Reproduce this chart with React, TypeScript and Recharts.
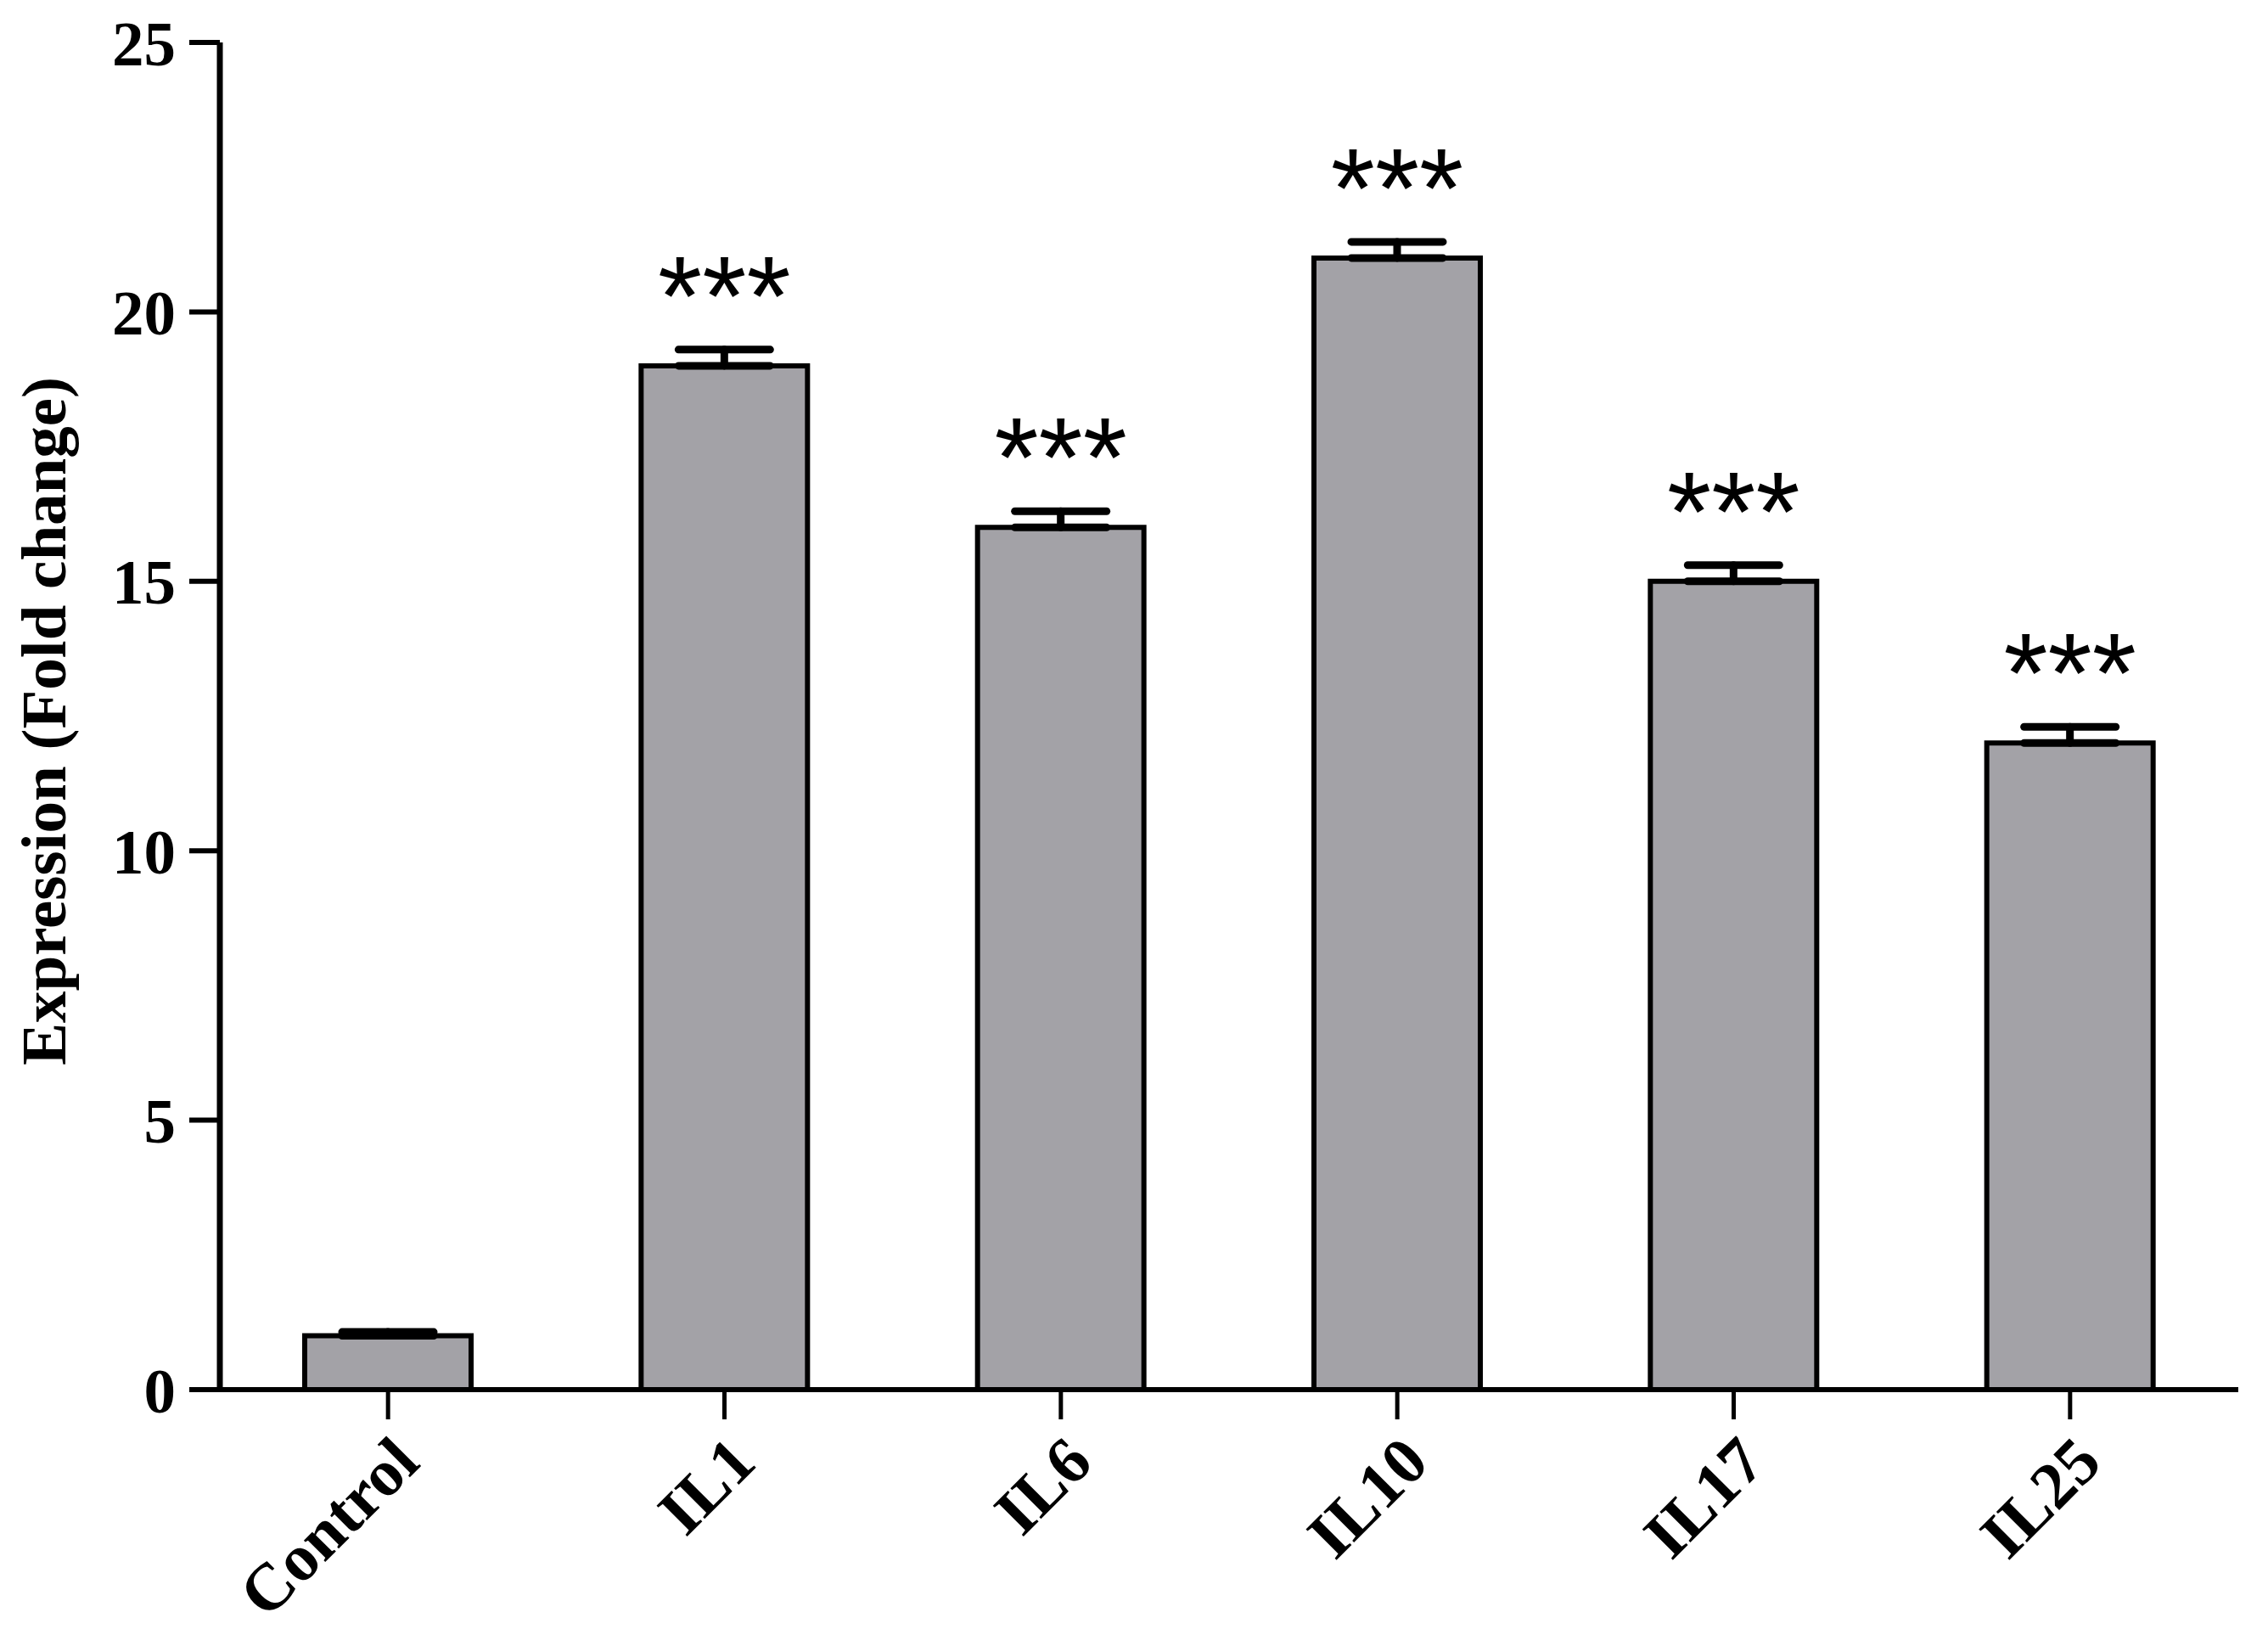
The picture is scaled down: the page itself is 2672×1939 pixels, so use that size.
import React from 'react';
import { BarChart, Bar, XAxis, YAxis, ErrorBar, LabelList } from 'recharts';

const categories = ['Control', 'IL1', 'IL6', 'IL10', 'IL17', 'IL25'];
const values = [1.0, 19.0, 16.0, 21.0, 15.0, 12.0];
const errorsUp = [0.07, 0.3, 0.3, 0.3, 0.3, 0.3];
const significance = ['', '***', '***', '***', '***', '***'];
const yTicks = [0, 5, 10, 15, 20, 25];

const data = categories.map((name, i) => ({
  name,
  value: values[i],
  err: [0, errorsUp[i]],
  sig: significance[i],
}));

const SERIF = '"Liberation Serif", "Times New Roman", serif';
const SANS = '"Liberation Sans", Arial, sans-serif';

const XTick = (props: any) => {
  const { x, y, payload } = props;
  return (
    <g transform={`translate(${x + 40},${y + 54})`}>
      <text
        x={0}
        y={0}
        textAnchor="end"
        transform="rotate(-45)"
        fontFamily={SERIF}
        fontWeight="bold"
        fontSize={78}
        fill="#000"
      >
        {payload.value}
      </text>
    </g>
  );
};

const StarLabel = (props: any) => {
  const { x, y, width, value } = props;
  if (!value) return null;
  return (
    <text
      x={x + width / 2}
      y={y - 36}
      textAnchor="middle"
      fontFamily={SANS}
      fontSize={134}
      fill="#000"
    >
      {value}
    </text>
  );
};

const YLabel = (props: any) => {
  const { viewBox } = props;
  const cx = viewBox.x + 77;
  const cy = viewBox.y + viewBox.height / 2 + 6;
  return (
    <text
      x={cx}
      y={cy}
      textAnchor="middle"
      transform={`rotate(-90, ${cx}, ${cy})`}
      fontFamily={SERIF}
      fontWeight="bold"
      fontSize={75}
      fill="#000"
    >
      Expression (Fold change)
    </text>
  );
};

export default function App() {
  return (
    <div style={{ position: 'absolute', left: 0, top: 0, width: 2672, height: 1939, background: '#fff' }}>
      <BarChart
        width={2672}
        height={1939}
        data={data}
        margin={{ top: 50, right: 35, bottom: 52, left: 0 }}
      >
        <XAxis
          dataKey="name"
          type="category"
          interval={0}
          height={250}
          tickSize={35}
          tickMargin={0}
          axisLine={{ stroke: '#000', strokeWidth: 6 }}
          tickLine={{ stroke: '#000', strokeWidth: 5 }}
          tick={<XTick />}
        />
        <YAxis
          type="number"
          domain={[0, 25]}
          ticks={yTicks}
          width={259}
          tickSize={36}
          tickMargin={16}
          axisLine={{ stroke: '#000', strokeWidth: 7 }}
          tickLine={{ stroke: '#000', strokeWidth: 6 }}
          tick={{ fill: '#000', fontSize: 75, fontWeight: 'bold', fontFamily: SERIF }}
          label={<YLabel />}
        />
        <Bar
          dataKey="value"
          fill="#a3a2a7"
          stroke="#000"
          strokeWidth={6}
          barSize={196}
          isAnimationActive={false}
        >
          <ErrorBar
            dataKey="err"
            direction="y"
            width={54}
            stroke="#000"
            strokeWidth={9}
            strokeLinecap="round"
            isAnimationActive={false}
          />
          <LabelList dataKey="sig" content={<StarLabel />} />
        </Bar>
      </BarChart>
    </div>
  );
}
